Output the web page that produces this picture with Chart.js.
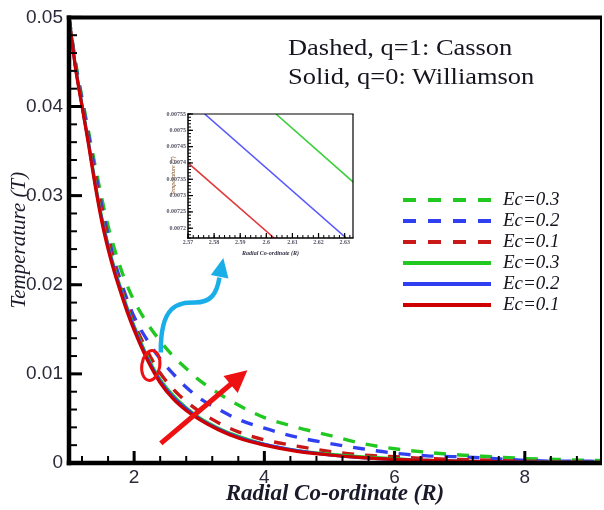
<!DOCTYPE html>
<html><head><meta charset="utf-8">
<script src="https://cdn.jsdelivr.net/npm/chart.js@4"></script>
<style>
html,body{margin:0;padding:0;background:#fff;}
#wrap{position:relative;width:604px;height:510px;overflow:hidden;background:#fff;}
#main{position:absolute;left:0;top:0;}
#inset{position:absolute;left:148px;top:108px;}
.note{position:absolute;left:288px;font-family:'Liberation Serif','Times New Roman',serif;font-size:23px;line-height:22px;color:#15151f;white-space:nowrap;transform-origin:0 0;transform:scaleX(1.15);}
.lg{position:absolute;font-family:'Liberation Serif','Times New Roman',serif;font-style:italic;font-size:19px;line-height:22px;color:#15151f;white-space:nowrap;}
.sw{position:absolute;}
</style>
</head><body>
<div id="wrap">
<canvas id="main" width="604" height="510"></canvas>
<canvas id="inset" width="212" height="150"></canvas>
<div class="note" style="top:37px">Dashed, q=1: Casson</div>
<div class="note" style="top:66px">Solid, q=0: Williamson</div>
<div id="legend"></div>
</div>
<script>
// ---------- data ----------
const radius = [1.0,1.1,1.2,1.3,1.4,1.5,1.6,1.7,1.8,1.9,2.0,2.2,2.4,2.6,2.8,3.0,3.3,3.6,4.0,4.5,5.0,5.5,6.0,6.5,7.0,7.5,8.0,8.5,9.0,9.2];
const cassonEc03 = [0.0500,0.0450,0.0410,0.0372,0.0334,0.0298,0.0266,0.0240,0.0217,0.0198,0.0182,0.0157,0.0137,0.0120,0.0106,0.0093,0.0078,0.0065,0.0051,0.0040,0.0031,0.0022,0.0016,0.0012,0.0009,0.0007,0.0005,0.0004,0.0003,0.0003];
const cassonEc02 = [0.0500,0.0448,0.0407,0.0368,0.0328,0.0290,0.0256,0.0226,0.0203,0.0182,0.0164,0.0138,0.0117,0.0100,0.0085,0.0073,0.0060,0.0049,0.0039,0.0029,0.0022,0.0016,0.0011,0.0008,0.0007,0.0005,0.0003,0.0002,0.0002,0.0001];
const cassonEc01 = [0.0500,0.0445,0.0403,0.0362,0.0322,0.0284,0.0250,0.0221,0.0197,0.0176,0.0157,0.0126,0.0101,0.0083,0.0069,0.0058,0.0045,0.0035,0.0026,0.0019,0.0013,0.0009,0.0007,0.0005,0.0004,0.0003,0.0002,0.00015,0.0001,0.0001];
const williamsonEc03 = [0.0500,0.0445,0.0402,0.0360,0.0316,0.0277,0.0245,0.0218,0.0195,0.0173,0.0154,0.0120,0.0094,0.0076,0.0062,0.0051,0.0039,0.0030,0.0021,0.0014,0.0010,0.0007,0.0005,0.0003,0.0002,0.00017,0.00012,0.0001,0.00008,0.00007];
const williamsonEc02 = [0.0500,0.0444,0.0401,0.0359,0.0314,0.0275,0.0243,0.0216,0.0193,0.0171,0.0152,0.0118,0.0092,0.0074,0.0061,0.0050,0.0038,0.0029,0.0021,0.0014,0.0009,0.0006,0.0004,0.0003,0.0002,0.00016,0.00011,0.00009,0.00007,0.00006];
const williamsonEc01 = [0.0500,0.0443,0.0400,0.0357,0.0312,0.0272,0.0240,0.0213,0.0190,0.0168,0.0149,0.0116,0.0090,0.0072,0.0059,0.0049,0.0037,0.0028,0.0020,0.0013,0.0009,0.0006,0.0004,0.0003,0.0002,0.00015,0.0001,0.00008,0.00006,0.00005];

const xTickValues = [2,4,6,8];
const xTickLabels = ['2','4','6','8'];
const yTickValues = [0,0.01,0.02,0.03,0.04,0.05];
const yTickLabels = ['0','0.01','0.02','0.03','0.04','0.05'];

const legendLabels = ['Ec=0.3','Ec=0.2','Ec=0.1','Ec=0.3','Ec=0.2','Ec=0.1'];

// inset (zoom near R = 2.6)
const insetRedR = [2.570, 2.603];
const insetRedT = [0.00740, 0.00717];
const insetBlueR = [2.5764, 2.6306];
const insetBlueT = [0.00755, 0.00717];
const insetGreenR = [2.6037, 2.6335];
const insetGreenT = [0.00755, 0.00734];
const insetXTickValues = [2.57,2.58,2.59,2.60,2.61,2.62,2.63];
const insetXTickLabels = ['2.57','2.58','2.59','2.6','2.61','2.62','2.63'];
const insetYTickValues = [0.0072,0.00725,0.0073,0.00735,0.0074,0.00745,0.0075,0.00755];
const insetYTickLabels = ['0.0072','0.00725','0.0073','0.00735','0.0074','0.00745','0.0075','0.00755'];

// ---------- styles ----------
const GREEN='#22c822', BLUE='#3040f0', RED='#cc0000', REDD='#c81818';
const DASH=[12,11];
const seriesStyle = [
  {data:williamsonEc01,color:RED,dash:[],w:3.2},
  {data:williamsonEc02,color:BLUE,dash:[],w:3},
  {data:williamsonEc03,color:GREEN,dash:[],w:3},
  {data:cassonEc01,color:REDD,dash:DASH,w:3.4},
  {data:cassonEc02,color:BLUE,dash:DASH,w:3.4},
  {data:cassonEc03,color:GREEN,dash:DASH,w:3.4},
];
const legendStyle = [
  {color:GREEN,dash:true},{color:BLUE,dash:true},{color:REDD,dash:true},
  {color:GREEN,dash:false},{color:BLUE,dash:false},{color:RED,dash:false}
];

// legend (HTML)
(function(){
  const wrap=document.getElementById('wrap');
  legendStyle.forEach((s,i)=>{
    const cy=200+i*21;
    const svg=document.createElementNS('http://www.w3.org/2000/svg','svg');
    svg.setAttribute('width','90');svg.setAttribute('height','8');
    svg.setAttribute('class','sw');
    svg.style.left='402px';svg.style.top=(cy-4)+'px';
    const ln=document.createElementNS('http://www.w3.org/2000/svg','line');
    ln.setAttribute('x1','1');ln.setAttribute('x2','89');ln.setAttribute('y1','4');ln.setAttribute('y2','4');
    ln.setAttribute('stroke',s.color);ln.setAttribute('stroke-width','4');
    if(s.dash) ln.setAttribute('stroke-dasharray','13 12');
    svg.appendChild(ln);wrap.appendChild(svg);
    const t=document.createElement('div');t.className='lg';
    t.style.left='503px';t.style.top=(cy+5-17)+'px';
    t.textContent=legendLabels[i];wrap.appendChild(t);
  });
})();

function tickFrame(o){
  return {id:'frame'+o.id, afterDatasetsDraw(chart){
    const {ctx,chartArea:a,scales:{x,y}}=chart;
    ctx.save();ctx.strokeStyle='#000';ctx.lineCap='butt';
    for(let i=0;;i++){const v=o.xMinorStart+i*o.xMinorStep; if(v>x.max+1e-12)break; if(v<x.min-1e-12)continue;
      const px=x.getPixelForValue(v); ctx.lineWidth=o.minorW; ctx.beginPath(); ctx.moveTo(px,a.bottom); ctx.lineTo(px,a.bottom-o.xMinorLen); ctx.stroke();}
    o.xMajor.forEach(v=>{const px=x.getPixelForValue(v); ctx.lineWidth=o.majorW; ctx.beginPath(); ctx.moveTo(px,a.bottom); ctx.lineTo(px,a.bottom-o.xMajorLen); ctx.stroke();});
    for(let i=0;;i++){const v=o.yMinorStart+i*o.yMinorStep; if(v>y.max+1e-12)break; if(v<y.min-1e-12)continue;
      const py=y.getPixelForValue(v); ctx.lineWidth=o.minorW; ctx.beginPath(); ctx.moveTo(a.left,py); ctx.lineTo(a.left+o.yMinorLen,py); ctx.stroke();}
    o.yMajor.forEach(v=>{const py=y.getPixelForValue(v); ctx.lineWidth=o.majorW; ctx.beginPath(); ctx.moveTo(a.left,py); ctx.lineTo(a.left+o.yMajorLen,py); ctx.stroke();});
    // frame
    const b=o.border;
    ctx.lineWidth=b.top; ctx.beginPath(); ctx.moveTo(a.left-b.left/2,a.top); ctx.lineTo(a.right+b.right/2,a.top); ctx.stroke();
    ctx.lineWidth=b.right; ctx.beginPath(); ctx.moveTo(a.right,a.top); ctx.lineTo(a.right,a.bottom); ctx.stroke();
    ctx.lineWidth=b.bottom; ctx.beginPath(); ctx.moveTo(a.left-b.left/2,a.bottom); ctx.lineTo(a.right+b.right/2,a.bottom); ctx.stroke();
    ctx.lineWidth=b.left; ctx.beginPath(); ctx.moveTo(a.left,a.top-b.top/2); ctx.lineTo(a.left,a.bottom+b.bottom/2); ctx.stroke();
    ctx.restore();
  }};
}

// annotation shapes in data units
const notes = {
  blue:{start:[2.41,0.0124],c1:[2.40,0.0178],c2:[2.68,0.0180],mid:[2.93,0.0180],c3:[3.18,0.0180],c4:[3.27,0.0190],end:[3.31,0.0208],tip:[3.37,0.0230]},
  ellipse:{c:[2.256,0.01094],rx:9,ry:15,rot:0.15},
  redArrow:{from:[2.41,0.0022],tip:[3.74,0.0104]}
};
const annot={id:'annot',afterDraw(chart){
  const {ctx,scales:{x,y}}=chart;
  const P=p=>[x.getPixelForValue(p[0]),y.getPixelForValue(p[1])];
  ctx.save();
  function head(from,tip,len,hw,color){
    const ang=Math.atan2(tip[1]-from[1],tip[0]-from[0]);
    const bx=tip[0]-len*Math.cos(ang), by=tip[1]-len*Math.sin(ang);
    ctx.fillStyle=color;ctx.beginPath();ctx.moveTo(tip[0],tip[1]);
    ctx.lineTo(bx+hw*Math.sin(ang),by-hw*Math.cos(ang));
    ctx.lineTo(bx-hw*Math.sin(ang),by+hw*Math.cos(ang));ctx.closePath();ctx.fill();
    return [bx,by];
  }
  // blue curved arrow
  const b=notes.blue, BL='#1aaee8';
  const s=P(b.start),c1=P(b.c1),c2=P(b.c2),m=P(b.mid),c3=P(b.c3),c4=P(b.c4),e=P(b.end),t=P(b.tip);
  ctx.strokeStyle=BL;ctx.lineWidth=4.5;ctx.lineCap='butt';
  ctx.beginPath();ctx.moveTo(s[0],s[1]);ctx.bezierCurveTo(c1[0],c1[1],c2[0],c2[1],m[0],m[1]);
  ctx.bezierCurveTo(c3[0],c3[1],c4[0],c4[1],e[0],e[1]);ctx.stroke();
  head(e,t,19,9,BL);
  // red ellipse
  const el=notes.ellipse, ec=P(el.c);
  ctx.strokeStyle='#ee1111';ctx.lineWidth=3;ctx.beginPath();ctx.ellipse(ec[0],ec[1],el.rx,el.ry,el.rot,0,Math.PI*2);ctx.stroke();
  // red straight arrow
  const f=P(notes.redArrow.from), rt=P(notes.redArrow.tip);
  const base=head(f,rt,22,11,'#ee1111');
  ctx.strokeStyle='#ee1111';ctx.lineWidth=5;ctx.beginPath();ctx.moveTo(f[0],f[1]);ctx.lineTo(base[0]+1,base[1]-1);ctx.stroke();
  ctx.restore();
}};

const tickFont={family:"'Liberation Sans', Arial, sans-serif",size:19};
new Chart(document.getElementById('main'),{
  type:'line',
  data:{datasets:seriesStyle.map(s=>({
    data:radius.map((r,i)=>({x:r,y:s.data[i]})),
    borderColor:s.color,borderWidth:s.w,borderDash:s.dash,pointRadius:0,
    cubicInterpolationMode:'monotone',fill:false
  }))},
  options:{
    responsive:false,animation:false,devicePixelRatio:1,
    layout:{padding:{left:0,right:3,top:15,bottom:0}},
    plugins:{legend:{display:false},tooltip:{enabled:false}},
    scales:{
      x:{type:'linear',min:1,max:9.17,
        afterBuildTicks:s=>{s.ticks=xTickValues.map(v=>({value:v}));},
        afterFit:s=>{s.height=47;},
        grid:{display:false,drawTicks:false},border:{display:false},
        ticks:{font:tickFont,color:'#2a2a3a',padding:3,maxRotation:0,autoSkip:false,callback:(v,i)=>xTickLabels[i]},
        title:{display:true,text:'Radial Co-ordinate (R)',color:'#1a1a2a',
          font:{family:"'Liberation Serif','Times New Roman',serif",size:23,style:'italic',weight:'bold'},padding:{top:0,bottom:2}}
      },
      y:{type:'linear',min:0,max:0.05,
        afterBuildTicks:s=>{s.ticks=yTickValues.map(v=>({value:v}));},
        afterFit:s=>{s.width=69;},
        grid:{display:false,drawTicks:false},border:{display:false},
        ticks:{font:tickFont,color:'#2a2a3a',padding:6,autoSkip:false,callback:(v,i)=>yTickLabels[i]},
        title:{display:true,text:'Temperature (T)',color:'#1a1a2a',
          font:{family:"'Liberation Serif','Times New Roman',serif",size:21,style:'italic'},padding:{top:7,bottom:0}}
      }
    }
  },
  plugins:[tickFrame({id:'m',xMinorStart:1.2,xMinorStep:0.4,xMajor:xTickValues,yMinorStart:0.002,yMinorStep:0.002,yMajor:yTickValues,
    xMinorLen:7,xMajorLen:12,yMinorLen:8,yMajorLen:13,minorW:2,majorW:3,border:{left:4.5,bottom:4.5,top:4,right:2}}),annot]
});

// inset chart
const insetFont={family:"'Liberation Serif','Times New Roman',serif",size:6,weight:'bold'};
new Chart(document.getElementById('inset'),{
  type:'line',
  data:{datasets:[
    {data:insetRedR.map((r,i)=>({x:r,y:insetRedT[i]})),borderColor:'#e03a3a',borderWidth:1.6,pointRadius:0},
    {data:insetBlueR.map((r,i)=>({x:r,y:insetBlueT[i]})),borderColor:'#5858ff',borderWidth:1.6,pointRadius:0},
    {data:insetGreenR.map((r,i)=>({x:r,y:insetGreenT[i]})),borderColor:'#3ccf3c',borderWidth:1.6,pointRadius:0}
  ]},
  options:{
    responsive:false,animation:false,devicePixelRatio:1,
    layout:{padding:{left:0,right:7,top:6,bottom:0}},
    plugins:{legend:{display:false},tooltip:{enabled:false}},
    scales:{
      x:{type:'linear',min:2.57,max:2.6332,
        afterBuildTicks:s=>{s.ticks=insetXTickValues.map(v=>({value:v}));},
        afterFit:s=>{s.height=20;},
        grid:{display:false,drawTicks:false},border:{display:false},
        ticks:{font:insetFont,color:'#555566',padding:1,maxRotation:0,autoSkip:false,callback:(v,i)=>insetXTickLabels[i]},
        title:{display:true,text:'Radial Co-ordinate (R)',color:'#333344',
          font:{family:"'Liberation Serif','Times New Roman',serif",size:6,style:'italic',weight:'bold'},padding:{top:0,bottom:1}}
      },
      y:{type:'linear',min:0.00717,max:0.00755,
        afterBuildTicks:s=>{s.ticks=insetYTickValues.map(v=>({value:v}));},
        afterFit:s=>{s.width=40;},
        grid:{display:false,drawTicks:false},border:{display:false},
        ticks:{font:insetFont,color:'#555566',padding:2,autoSkip:false,callback:(v,i)=>insetYTickLabels[i]},
        title:{display:true,text:'Temperature (T)',color:'#7a4a1a',
          font:{family:"'Liberation Serif','Times New Roman',serif",size:6,style:'italic'},padding:{top:22,bottom:0}}
      }
    }
  },
  plugins:[tickFrame({id:'i',xMinorStart:2.57,xMinorStep:0.002,xMajor:insetXTickValues,yMinorStart:0.00717,yMinorStep:0.00001,yMajor:insetYTickValues,
    xMinorLen:3,xMajorLen:5,yMinorLen:3,yMajorLen:5,minorW:1,majorW:1.2,border:{left:1.5,bottom:1.5,top:1.2,right:1.2}})]
});
</script>
</body></html>
